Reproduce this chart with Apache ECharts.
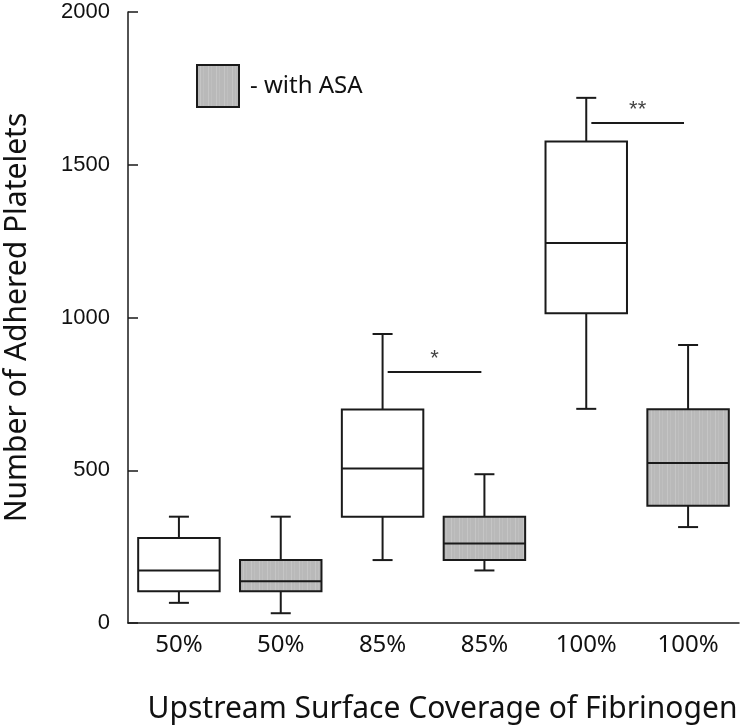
<!DOCTYPE html>
<html>
<head>
<meta charset="utf-8">
<script src="https://cdn.jsdelivr.net/npm/echarts@6/dist/echarts.min.js"></script>
<style>
  html, body { margin: 0; padding: 0; background: #fff; }
  #chart { width: 740px; height: 728px; }
</style>
</head>
<body>
<div id="chart"></div>
<script>
const categories = ['50%', '50%', '85%', '85%', '100%', '100%'];
// [min, Q1, median, Q3, max]
const boxStats = [
  [66, 104, 172, 278, 348],
  [32, 104, 137, 206, 348],
  [206, 348, 506, 699, 946],
  [172, 206, 260, 348, 487],
  [701, 1014, 1244, 1576, 1719],
  [314, 384, 524, 700, 910]
];
const withAsa = [false, true, false, true, false, true];
// significance bars: from / to in category index units, y value, mark
const sigFrom = [2.05, 4.05];
const sigTo = [2.97, 4.96];
const sigY = [822, 1637];
const sigMark = ['*', '**'];

const ink = '#1a1a1a';

// grey fill with fine vertical stripes, like the scanned figure
const stripe = document.createElement('canvas');
stripe.width = 8;
stripe.height = 8;
const ctx = stripe.getContext('2d');
ctx.fillStyle = '#b9b9b9';
ctx.fillRect(0, 0, 8, 8);
ctx.fillStyle = '#c5c5c5';
ctx.fillRect(3, 0, 1, 8);
ctx.fillStyle = '#bfbfbf';
ctx.fillRect(6, 0, 1, 8);
const greyFill = { image: stripe, repeat: 'repeat' };

function makeBox(fill) {
  return function (params, api) {
    const x = api.value(0);
    const pMin = api.coord([x, api.value(1)]);
    const pQ1 = api.coord([x, api.value(2)]);
    const pMed = api.coord([x, api.value(3)]);
    const pQ3 = api.coord([x, api.value(4)]);
    const pMax = api.coord([x, api.value(5)]);
    const bw = api.size([1, 0])[0] * 0.8;
    const cw = 20;
    const cx = pMed[0];
    const line = (x1, y1, x2, y2) => ({
      type: 'line',
      shape: { x1, y1, x2, y2 },
      style: { stroke: ink, lineWidth: 2 }
    });
    return {
      type: 'group',
      children: [
        line(cx, pMax[1], cx, pQ3[1]),
        line(cx - cw / 2, pMax[1], cx + cw / 2, pMax[1]),
        line(cx, pQ1[1], cx, pMin[1]),
        line(cx - cw / 2, pMin[1], cx + cw / 2, pMin[1]),
        {
          type: 'rect',
          shape: { x: cx - bw / 2, y: pQ3[1], width: bw, height: pQ1[1] - pQ3[1] },
          style: { fill: fill, stroke: ink, lineWidth: 2 }
        },
        line(cx - bw / 2, pMed[1], cx + bw / 2, pMed[1])
      ]
    };
  };
}

const rows = boxStats.map((b, i) => [i].concat(b));

const chart = echarts.init(document.getElementById('chart'));
chart.setOption({
  animation: false,
  backgroundColor: '#fff',
  grid: { left: 128, right: 1, top: 12, bottom: 105, outerBoundsMode: 'none', containLabel: false },
  legend: {
    left: 196,
    top: 64,
    padding: 0,
    itemWidth: 42,
    itemHeight: 42,
    data: [{
      name: 'with ASA',
      icon: 'rect',
      itemStyle: { color: greyFill, borderColor: ink, borderWidth: 2 }
    }],
    formatter: '- {name}',
    textStyle: {
      fontFamily: 'Noto Sans',
      fontSize: 24,
      color: '#111',
      padding: [0, 0, 0, 6]
    }
  },
  xAxis: [
    {
      type: 'category',
      data: categories,
      axisLine: { lineStyle: { color: ink, width: 1.5 } },
      axisTick: { inside: true, length: 13, lineStyle: { color: ink, width: 1.5 } },
      axisLabel: { fontFamily: 'Noto Sans', fontSize: 24, color: '#111', margin: 10 },
      name: 'Upstream Surface Coverage of Fibrinogen',
      nameLocation: 'middle',
      nameGap: 71,
      nameTextStyle: { fontFamily: 'Noto Sans', fontSize: 30, color: '#111', padding: [0, 0, 0, 18] }
    },
    { type: 'value', min: -0.5, max: 5.5, show: false }
  ],
  yAxis: {
    type: 'value',
    min: 0,
    max: 2000,
    interval: 500,
    splitLine: { show: false },
    axisLine: { show: true, onZero: false, lineStyle: { color: ink, width: 1.5 } },
    axisTick: { show: true, inside: true, length: 10, lineStyle: { color: ink, width: 1.5 } },
    axisLabel: {
      fontFamily: 'Liberation Sans',
      fontSize: 22,
      color: '#111',
      margin: 18,
      formatter: v => String(v)
    },
    name: 'Number of Adhered Platelets',
    nameLocation: 'middle',
    nameGap: 96,
    nameTextStyle: { fontFamily: 'Noto Sans', fontSize: 30, color: '#111' }
  },
  series: [
    {
      name: 'control',
      type: 'custom',
      renderItem: makeBox('#fff'),
      encode: { x: 0, y: [1, 2, 3, 4, 5] },
      data: rows.filter((r, i) => !withAsa[i])
    },
    {
      name: 'with ASA',
      type: 'custom',
      renderItem: makeBox(greyFill),
      itemStyle: { color: greyFill, borderColor: ink },
      encode: { x: 0, y: [1, 2, 3, 4, 5] },
      data: rows.filter((r, i) => withAsa[i])
    },
    ...sigY.map((y, k) => ({
      type: 'line',
      xAxisIndex: 1,
      symbol: 'none',
      silent: true,
      lineStyle: { color: ink, width: 2 },
      data: [[sigFrom[k], y], [sigTo[k], y]]
    })),
    {
      type: 'scatter',
      xAxisIndex: 1,
      symbolSize: 1,
      silent: true,
      itemStyle: { color: 'rgba(0,0,0,0)' },
      label: {
        show: true,
        position: 'top',
        distance: 1,
        formatter: p => sigMark[p.dataIndex],
        fontFamily: 'Liberation Sans',
        fontSize: 22,
        color: '#111'
      },
      data: sigY.map((y, k) => [(sigFrom[k] + sigTo[k]) / 2, y])
    }
  ]
});
</script>
</body>
</html>
